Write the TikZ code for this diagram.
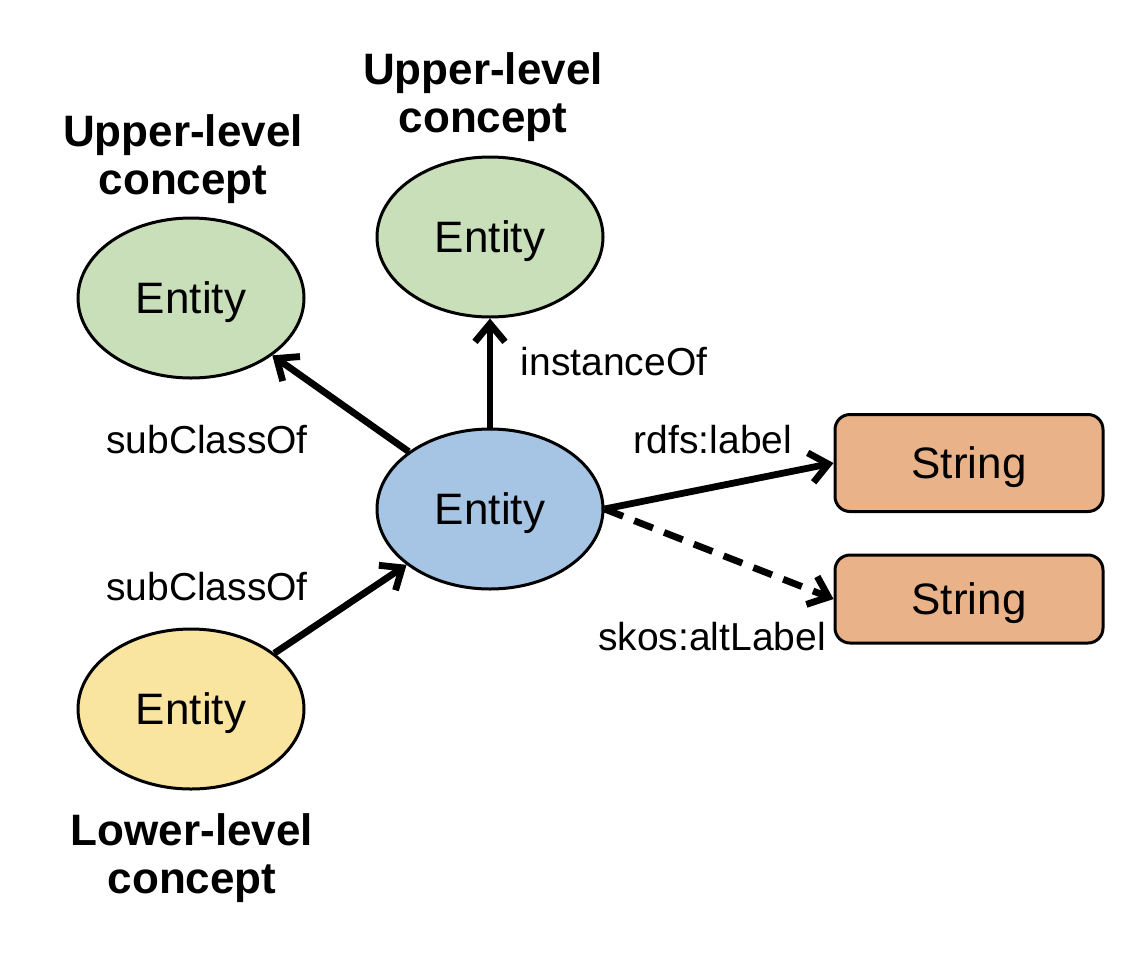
\documentclass[tikz,border=0pt]{standalone}
\usepackage{fontspec}
\setmainfont{Liberation Sans}
\usepackage{tikz}
\usetikzlibrary{arrows.meta,shapes.geometric,positioning}

\definecolor{upgreen}{RGB}{201,223,185}
\definecolor{midblue}{RGB}{166,196,228}
\definecolor{lowyellow}{RGB}{250,229,160}
\definecolor{strorange}{RGB}{234,178,136}

\begin{document}
\begin{tikzpicture}
	[
		x=0.5pt, y=-0.5pt,
		E/.style = {ellipse, draw=black, line width=1.5pt, minimum width=113pt, minimum height=80pt, inner sep=0pt, text depth=0pt, font=\fontsize{22}{24}\selectfont},
		S/.style = {rectangle, rounded corners=7.5pt, draw=black, line width=1.5pt, fill=strorange, minimum width=134pt, inner sep=0pt, text depth=0pt, font=\fontsize{22}{24}\selectfont},
		L/.style = {rectangle, align=center, draw=none, fill=none, inner sep=0pt, font=\fontsize{19.5}{22}\selectfont},
		C/.style = {rectangle, align=center, draw=none, fill=none, inner sep=0pt, font=\bfseries\fontsize{22}{24}\selectfont},
		R/.style = {line width=3.4pt, -{Straight Barb[length=9pt,width=15pt]}},
	]
	\useasboundingbox (0,0) rectangle (1140,954);

	% entities
	\node[E, fill=upgreen]   (up1) at ( 191, 298 ) {Entity};
	\node[E, fill=upgreen]   (up2) at ( 490, 237 ) {Entity};
	\node[E, fill=midblue]   (ent) at ( 490, 509 ) {Entity};
	\node[E, fill=lowyellow] (low) at ( 191, 709 ) {Entity};

	% literals
	\node[S, minimum height=48.5pt] (str1) at ( 969, 463 ) {String};
	\node[S, minimum height=44pt]   (str2) at ( 969, 599 ) {String};

	% concept levels
	\node[C] (c1) at ( 183, 159 ) {Upper-level\\concept};
	\node[C] (c2) at ( 483,  97 ) {Upper-level\\concept};
	\node[C] (c3) at ( 192, 858 ) {Lower-level\\concept};

	% relation labels
	\node[L] (l1) at ( 207, 440 ) {subClassOf};
	\node[L] (l2) at ( 207, 587 ) {subClassOf};
	\node[L] (l3) at ( 614, 362 ) {instanceOf};
	\node[L] (l4) at ( 713, 440 ) {rdfs:label};
	\node[L] (l5) at ( 712, 637 ) {skos:altLabel};

	\foreach \from/\to in {ent/up1,ent/up2,low/ent}
	\draw[R] (\from) -- (\to);
	\draw[R] (ent.east) -- (str1.west);
	\draw[R, dash pattern=on 10pt off 6pt] (ent.east) -- (str2.west);

\end{tikzpicture}
\end{document}
